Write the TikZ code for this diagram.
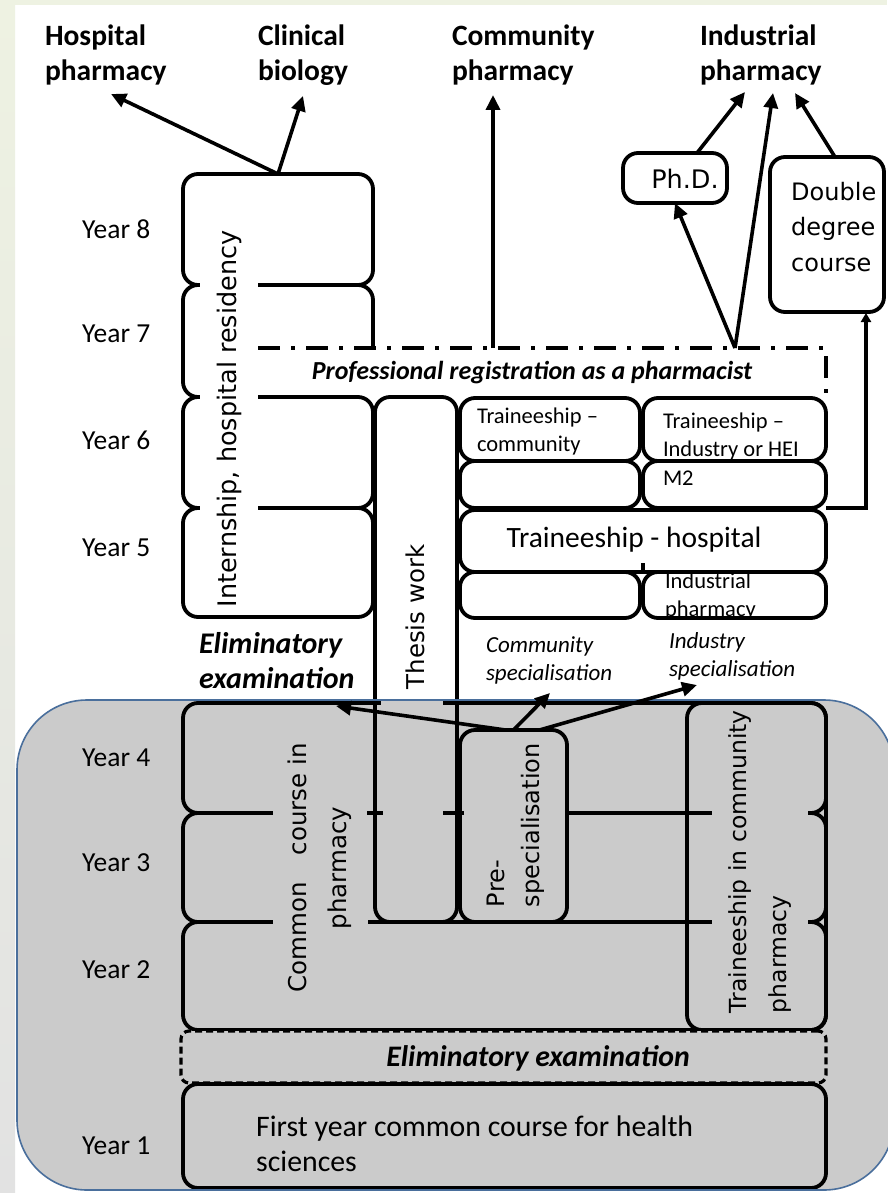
\documentclass[tikz,border=0pt]{standalone}
\usepackage{fontspec}
\setmainfont{Carlito}
\newfontfamily\vf{DejaVu Sans}
\usetikzlibrary{arrows.meta,calc}
\definecolor{bggray}{HTML}{CBCBCB}
\definecolor{bgblue}{HTML}{4A6F9C}
\definecolor{stripTop}{HTML}{EEF2E2}
\definecolor{stripMid}{HTML}{DCE4C8}
\definecolor{stripBot}{HTML}{E2E2E2}
\tikzset{
 boxs/.style={draw=black, line width=3.8pt, rounded corners=15pt, inner sep=0pt, outer sep=0pt},
 arr/.style={line width=3.6pt, -{Triangle[length=15pt,width=14pt]}},
 toplbl/.style={inner sep=0pt, outer sep=0pt, align=left, anchor=north west, font=\fontsize{29.5}{35}\selectfont\bfseries},
 yearlbl/.style={inner sep=0pt, anchor=west, font=\fontsize{27.5}{32}\selectfont},
 small/.style={inner sep=0pt, outer sep=0pt, align=left, anchor=north west, font=\fontsize{22.5}{28}\selectfont},
 vtext/.style={inner sep=0pt, outer sep=0pt, rotate=90, font=\vf\fontsize{24.5}{40}\selectfont},
 spec/.style={inner sep=0pt, outer sep=0pt, align=left, anchor=north west, font=\fontsize{23}{28}\selectfont\itshape},
}
\newcommand{\rbox}[6][]{%
  \pgfmathsetmacro\rbW{#5-#3}\pgfmathsetmacro\rbH{#6-#4}%
  \pgfmathsetmacro\rbX{(#3+#5)/2}\pgfmathsetmacro\rbY{(#4+#6)/2}%
  \node[boxs,#1,minimum width=\rbW pt,minimum height=\rbH pt] (#2) at (\rbX,\rbY) {};}
\begin{document}
\begin{tikzpicture}[x=1pt,y=-1pt]
\useasboundingbox (0,0) rectangle (887,1193);
% background
\fill[white] (0,0) rectangle (887,1193);
\shade[top color=stripTop, middle color=stripMid, bottom color=stripBot] (0,0) rectangle (15,1193);
\fill[stripTop] (0,0) rectangle (887,5);
% gray panel
\fill[bggray, rounded corners=70pt] (17,700) rectangle (894,1190);

% ---------- top labels
\node[toplbl] (hp) at (45,25) {Hospital\\pharmacy};
\node[toplbl] (cb) at (258,25) {Clinical\\biology};
\node[toplbl] (cp) at (452,25) {Community\\pharmacy};
\node[toplbl] (ip) at (700,25) {Industrial\\pharmacy};

% ---------- year labels
\node[yearlbl] (y8l) at (82,229) {Year 8};
\node[yearlbl] (y7l) at (82,334) {Year 7};
\node[yearlbl] (y6l) at (82,440) {Year 6};
\node[yearlbl] (y5l) at (82,548) {Year 5};
\node[yearlbl] (y4l) at (82,758) {Year 4};
\node[yearlbl] (y3l) at (82,863) {Year 3};
\node[yearlbl] (y2l) at (82,970) {Year 2};
\node[yearlbl] (y1l) at (82,1146) {Year 1};

% ---------- internship stack
\rbox{Y8}{183}{174}{373}{285}
\rbox{Y7}{183}{285}{373}{397}
\fill[white] (258,350) rectangle (830,397);
\draw[line width=3.8pt, dash pattern=on 22pt off 11pt on 4pt off 11pt] (258,348) -- (826,348) -- (826,397);
\node[inner sep=0pt, font=\fontsize{26}{30}\selectfont\bfseries\itshape] (reg) at (532,373) {Professional registration as a pharmacist};
\rbox{Y6}{183}{397}{373}{508}
\rbox{Y5}{183}{508}{373}{617}
\node[vtext, fill=white, font=\vf\fontsize{25.5}{40}\selectfont, minimum height=58pt, minimum width=388pt] (intT) at (229,419) {Internship, hospital residency};

% ---------- upper traineeships
\rbox{TC1}{460}{398}{640}{461}
\rbox{TC2}{460}{461}{640}{508}
\rbox{TI1}{643}{398}{826}{461}
\rbox{TI2}{643}{461}{826}{508}
\rbox{TH}{460}{510}{826}{572}
\rbox{TE}{460}{572}{640}{618}
\rbox{TIP}{643}{572}{826}{618}
\draw[line width=3.8pt] (643,563) -- (643,572);
\node[small] (tc1t) at (477,408) {Traineeship –\\community};
\node[small] (ti1t) at (663,413) {Traineeship –\\Industry or HEI};
\node[small, anchor=west] (m2t) at (663,478) {M2};
\node[inner sep=0pt, font=\fontsize{29.5}{32}\selectfont] (tht) at (634,540) {Traineeship - hospital};
\node[small] (tipt) at (665,573) {Industrial\\pharmacy};

% ---------- upper eliminatory + specialisation labels
\node[toplbl, font=\fontsize{30}{35}\selectfont\bfseries\itshape] (elimU) at (199,632) {Eliminatory\\examination};
\node[spec] (comS) at (486,637) {Community\\specialisation};
\node[spec] (indS) at (669,633) {Industry\\specialisation};

% ---------- ph.d. / double degree
\rbox{phd}{623}{153}{727}{203}
\node[inner sep=0pt, font=\vf\fontsize{25.5}{28}\selectfont] (phdt) at (685,179) {Ph.D.};
\rbox{dd}{770}{157}{884}{312}
\node[inner sep=0pt, align=left, anchor=north west, font=\vf\fontsize{24}{35.5}\selectfont] (ddt) at (791,182) {Double\\degree\\course};

% ---------- lower stack (common course)
\rbox{Y4}{183}{703}{826}{813}
\rbox{Y3}{183}{813}{826}{922}
\rbox{Y2}{183}{922}{826}{1030}
\fill[bggray] (381,701) rectangle (443,707);
\fill[bggray] (383,810) rectangle (443,816);

% thesis box
\rbox{th}{375}{397}{457}{922}
\node[vtext] (tht2) at (415,617) {Thesis work};

% traineeship in community pharmacy
\rbox{TCP}{687}{703}{826}{1030}
% pre-specialisation
\rbox[fill=bggray]{ps}{460}{730}{567}{922}
\node[vtext, font=\vf\fontsize{24}{35}\selectfont, align=left, anchor=west] (pst) at (516,907) {Pre-\\specialisation};

\node[vtext, fill=bggray, align=center, minimum height=95pt, minimum width=240pt] (cct) at (320,868) {Common\hspace{1.1em}course in\\pharmacy};
\node[vtext, fill=bggray, font=\vf\fontsize{23.5}{40}\selectfont, align=left, anchor=south west, minimum height=96pt, inner xsep=2pt] (tcpt) at (808,1015) {Traineeship in community\\pharmacy};

% ticks at thesis edges
\draw[line width=3.8pt] (367,813) -- (383,813);
\draw[line width=3.8pt] (443,813) -- (464,813);

% exam box and year 1
\rbox[fill=bggray, rounded corners=8pt, dash pattern=on 7pt off 4pt, line width=3.2pt]{ex}{181}{1031}{826}{1083}
\node[inner sep=0pt, font=\fontsize{29.8}{32}\selectfont\bfseries\itshape] (ext) at (538,1058) {Eliminatory examination};
\rbox{Y1}{183}{1084}{826}{1188}
\node[inner sep=0pt, align=left, anchor=north west, font=\fontsize{29.8}{35}\selectfont] (y1t) at (256,1116) {First year common course for health\\sciences};

% panel border
\draw[bgblue, line width=1.6pt, rounded corners=70pt] (17,700) rectangle (894,1190);

% ---------- connectors
\coordinate (hpTip) at (111,94);
\coordinate (cbTip) at (303,96);
\coordinate (cpTip) at (493,95);
\coordinate (regCom) at (493,348);
\coordinate (regInd) at (735,348);
\coordinate (ipTipA) at (745,92);
\coordinate (ipTipB) at (773,93);
\coordinate (ipTipC) at (795,93);
\coordinate (ddIn) at (866,313);
\coordinate (elimTip) at (336,706);
\coordinate (comTip) at (550,693);
\coordinate (indTip) at (697,685);

\draw[arr] (Y8.north) -- (hpTip);
\draw[arr] (Y8.north) -- (cbTip);
\draw[arr] (regCom) -- (cpTip);
\draw[arr] (regInd) -- (phd.south);
\draw[arr] (regInd) -- (ipTipB);
\draw[arr] ($(phd.north)+(22,0)$) -- (ipTipA);
\draw[arr] ($(dd.north)+(8,0)$) -- (ipTipC);
\draw[line width=3.2pt, -{Triangle[length=9pt,width=10pt]}] (TI2.south east) -| (ddIn);
\draw[arr] ($(ps.north)+(-8,0)$) -- (elimTip);
\draw[arr] (ps.north) -- (comTip);
\draw[arr] ($(ps.north)+(26,0)$) -- (indTip);
\end{tikzpicture}
\end{document}
